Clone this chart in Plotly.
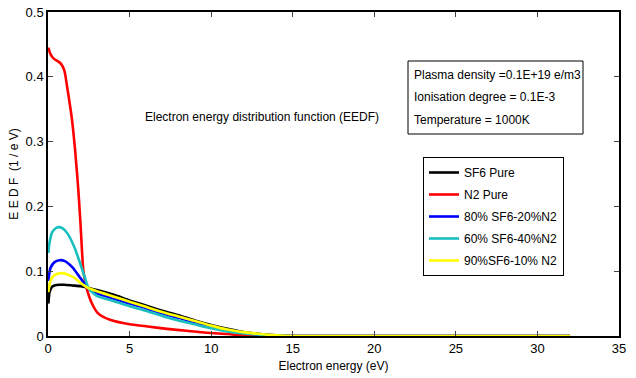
import plotly.graph_objects as go

# Electron energy (eV) sample points and EEDF (1/eV) values per series
x_sf6 = [0.02, 0.1, 0.25, 0.4, 0.7, 1.0, 1.5, 2.0, 2.4, 3, 4, 5, 6, 7, 8, 9, 10, 11, 12, 13, 14, 15, 20, 25, 32]
y_sf6 = [0.05, 0.068, 0.076, 0.078, 0.079, 0.079, 0.078, 0.077, 0.075, 0.071, 0.064, 0.055, 0.047, 0.039, 0.032, 0.024, 0.017, 0.011, 0.006, 0.003, 0.001, 0.0, 0.0, 0.0, 0.0]

x_n2 = [0.02, 0.15, 0.35, 0.6, 0.8, 1.0, 1.2, 1.45, 1.65, 1.86, 2.0, 2.17, 2.37, 2.68, 3.07, 3.8, 5.0, 6.0, 7.3, 8.5, 9.7, 11, 12, 13, 14, 20, 25, 32]
y_n2 = [0.445, 0.435, 0.428, 0.424, 0.42, 0.41, 0.38, 0.338, 0.29, 0.225, 0.17, 0.1, 0.074, 0.051, 0.035, 0.025, 0.018, 0.015, 0.011, 0.008, 0.005, 0.003, 0.001, 0.0005, 0.0, 0.0, 0.0, 0.0]

x_80 = [0.02, 0.15, 0.4, 0.7, 1.0, 1.5, 2.0, 2.4, 3, 4, 5, 6, 7, 8, 9, 10, 11, 12, 13, 14, 15, 20, 25, 32]
y_80 = [0.085, 0.105, 0.114, 0.117, 0.116, 0.106, 0.089, 0.075, 0.066, 0.058, 0.05, 0.043, 0.035, 0.028, 0.021, 0.015, 0.009, 0.005, 0.002, 0.001, 0.0, 0.0, 0.0, 0.0]

x_60 = [0.02, 0.1, 0.25, 0.45, 0.65, 0.9, 1.2, 1.6, 2.0, 2.3, 2.5, 3, 4, 5, 6, 7, 8, 9, 10, 11, 12, 13, 14, 15, 20, 25, 32]
y_60 = [0.128, 0.145, 0.16, 0.166, 0.168, 0.166, 0.158, 0.138, 0.11, 0.087, 0.073, 0.062, 0.054, 0.046, 0.039, 0.031, 0.024, 0.018, 0.012, 0.007, 0.004, 0.002, 0.001, 0.0, 0.0, 0.0, 0.0]

x_90 = [0.02, 0.15, 0.4, 0.8, 1.2, 1.6, 2.0, 2.4, 3, 4, 5, 6, 7, 8, 9, 10, 11, 12, 13, 14, 15, 20, 25, 32]
y_90 = [0.068, 0.085, 0.094, 0.097, 0.095, 0.09, 0.082, 0.075, 0.069, 0.061, 0.053, 0.045, 0.037, 0.030, 0.023, 0.016, 0.010, 0.006, 0.003, 0.001, 0.0, 0.0, 0.0, 0.0]

names = ["SF6 Pure", "N2 Pure", "80% SF6-20%N2", "60% SF6-40%N2", "90%SF6-10% N2"]
colors = ["#000000", "#ff0000", "#0000ff", "#19bfbf", "#ffff00"]

x_ticks = [0, 5, 10, 15, 20, 25, 30, 35]
y_ticks = [0, 0.1, 0.2, 0.3, 0.4, 0.5]
y_tick_text = ["0", "0.1", "0.2", "0.3", "0.4", "0.5"]

info_lines = ["Plasma density =0.1E+19 e/m3", "Ionisation degree = 0.1E-3", "Temperature = 1000K"]

FONT = "Liberation Sans Narrow, Arial Narrow, Liberation Sans, sans-serif"

L, R, T, B = 48, 17, 12, 42
PW, PH = 636 - L - R, 378 - T - B


def px(xp):
    return (xp - L) / PW


def py(yp):
    return (378 - B - yp) / PH


fig = go.Figure()
series = [(x_sf6, y_sf6), (x_n2, y_n2), (x_80, y_80), (x_60, y_60), (x_90, y_90)]
for i, ((xs, ys), n, c) in enumerate(zip(series, names, colors)):
    fig.add_trace(go.Scatter(x=xs, y=ys, mode="lines", name=n, legendgroup=f"g{i}",
                             line=dict(color=c, width=2.6, shape="spline", smoothing=0.6)))

fig.update_layout(
    width=636, height=378,
    margin=dict(l=L, r=R, t=T, b=B, autoexpand=False),
    paper_bgcolor="white", plot_bgcolor="white",
    font=dict(family=FONT, size=12, color="black"),
    showlegend=True,
    legend=dict(x=px(423), y=py(157), xanchor="left", yanchor="top",
                bordercolor="black", borderwidth=1, bgcolor="white",
                font=dict(size=12), traceorder="grouped", tracegroupgap=3, itemwidth=30),
    xaxis=dict(range=[0, 35], tickvals=x_ticks, ticks="inside", ticklen=5,
               showline=True, linecolor="black", linewidth=1.5, mirror="ticks",
               showgrid=False, zeroline=False, tickfont=dict(size=13), automargin=False,
               title=dict(text="Electron energy (eV)", standoff=6, font=dict(size=12))),
    yaxis=dict(range=[0, 0.5], tickvals=y_ticks, ticktext=y_tick_text, ticks="inside", ticklen=5,
               showline=True, linecolor="black", linewidth=1.5, mirror="ticks",
               showgrid=False, zeroline=False, tickfont=dict(size=13), automargin=False,
               title=dict(text="E E D F  (1 / e V)", standoff=4, font=dict(size=12))),
)
fig.add_annotation(x=px(262), y=py(117), xref="paper", yref="paper",
                   text="Electron energy distribution function (EEDF)", showarrow=False,
                   font=dict(size=12), xanchor="center", yanchor="middle")
fig.add_shape(type="rect", xref="paper", yref="paper",
              x0=px(408), x1=px(583), y0=py(61), y1=py(134),
              line=dict(color="black", width=1), fillcolor="white", layer="above")
for k, t in enumerate(info_lines):
    fig.add_annotation(x=px(412), y=py(75 + 22.5 * k), xref="paper", yref="paper",
                       text=t, showarrow=False, xanchor="left", yanchor="middle",
                       font=dict(size=12))

fig.write_html("out.html")
